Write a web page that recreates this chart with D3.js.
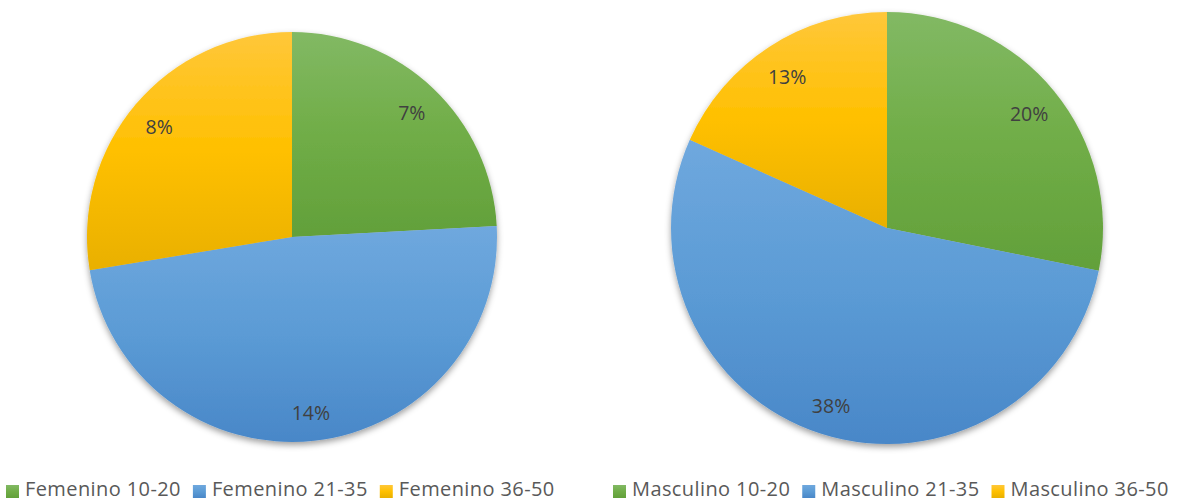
<!DOCTYPE html>
<html>
<head>
<meta charset="utf-8">
<script src="https://cdn.jsdelivr.net/npm/d3@7"></script>
<style>
  body { margin: 0; background: #fff; }
  svg { display: block; }
</style>
</head>
<body>
<svg id="chart" width="1178" height="502"></svg>
<script>
// Data
const ageGroups = ["10-20", "21-35", "36-50"];
const femeninoLabels = ["Femenino 10-20", "Femenino 21-35", "Femenino 36-50"];
const femeninoValues = [7, 14, 8];
const masculinoLabels = ["Masculino 10-20", "Masculino 21-35", "Masculino 36-50"];
const masculinoValues = [20, 38, 13];

const baseColors = ["#70ad47", "#5b9bd5", "#ffc000"];
const topColors = ["#82b964", "#6fa8de", "#ffc73a"];
const bottomColors = ["#62a03a", "#4987c8", "#e9b000"];

const svg = d3.select("#chart");
const defs = svg.append("defs");

const filt = defs.append("filter").attr("id", "shadow")
  .attr("x", "-10%").attr("y", "-10%").attr("width", "120%").attr("height", "125%");
filt.append("feDropShadow").attr("dx", 0).attr("dy", 3).attr("stdDeviation", 3)
  .attr("flood-color", "#000").attr("flood-opacity", 0.38);

baseColors.forEach((c, i) => {
  const g = defs.append("linearGradient").attr("id", "grad" + i)
    .attr("x1", 0).attr("y1", 0).attr("x2", 0).attr("y2", 1);
  g.append("stop").attr("offset", "0%").attr("stop-color", topColors[i]);
  g.append("stop").attr("offset", "50%").attr("stop-color", c);
  g.append("stop").attr("offset", "100%").attr("stop-color", bottomColors[i]);
});

const pies = [
  { labels: femeninoLabels, values: femeninoValues, cx: 292, cy: 237, r: 205, legendX: 6 },
  { labels: masculinoLabels, values: masculinoValues, cx: 887, cy: 228, r: 216, legendX: 613 }
];

const pie = d3.pie().sort(null).value(d => d);
const fontFam = "'Open Sans', 'Liberation Sans', sans-serif";

pies.forEach(p => {
  const arcs = pie(p.values);
  const arc = d3.arc().innerRadius(0).outerRadius(p.r);
  const labelArc = d3.arc().innerRadius(p.r * 0.85).outerRadius(p.r * 0.85);
  const g = svg.append("g").attr("transform", `translate(${p.cx},${p.cy})`);
  const sg = g.append("g").attr("filter", "url(#shadow)");
  sg.selectAll("path").data(arcs).join("path")
    .attr("d", arc)
    .attr("fill", (d, i) => `url(#grad${i})`);
  g.selectAll("text").data(arcs).join("text")
    .attr("transform", d => `translate(${labelArc.centroid(d)})`)
    .attr("text-anchor", "middle")
    .attr("dy", "0.5em")
    .attr("font-family", fontFam)
    .attr("font-size", 19.5)
    .attr("fill", "#404040")
    .text(d => d.data + "%");

  // legend
  const lg = svg.append("g").attr("transform", `translate(${p.legendX},0)`);
  let x = 0;
  p.labels.forEach((lab, i) => {
    lg.append("rect").attr("x", x).attr("y", 485).attr("width", 13).attr("height", 13)
      .attr("fill", `url(#grad${i})`);
    const t = lg.append("text").attr("x", x + 19).attr("y", 496)
      .attr("font-family", fontFam).attr("font-size", 20).attr("fill", "#595959")
      .attr("letter-spacing", 0.4)
      .text(lab);
    x += 19 + t.node().getComputedTextLength() + 12;
  });
});
</script>
</body>
</html>
